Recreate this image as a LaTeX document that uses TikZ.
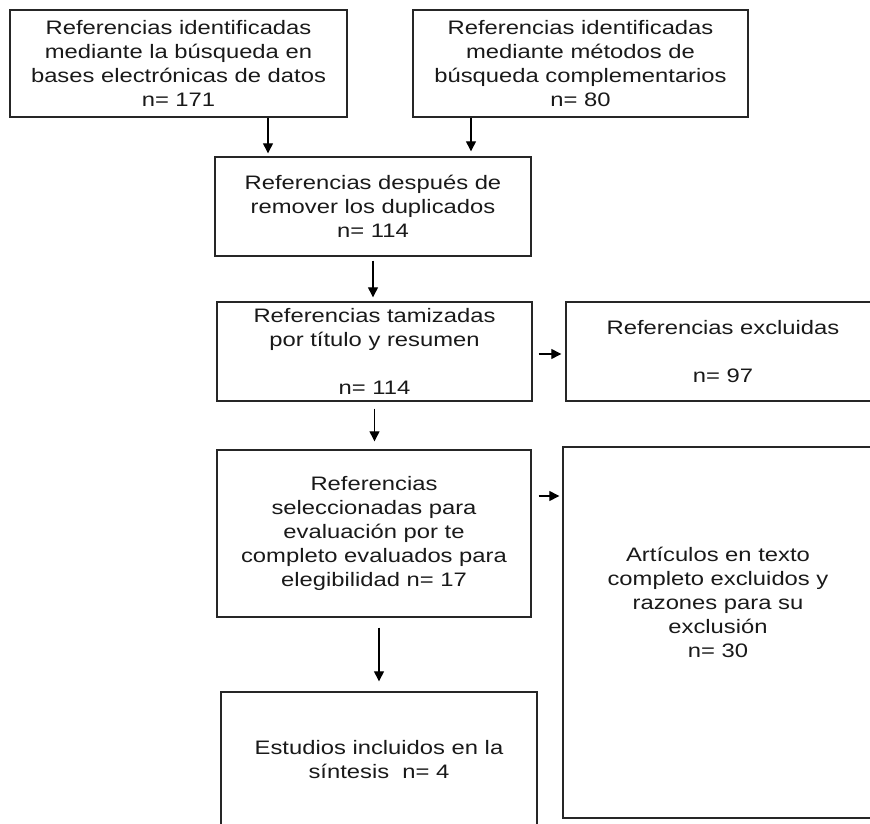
\documentclass[tikz,border=0pt]{standalone}
\usepackage{fontspec}
\setmainfont{Liberation Sans}[FakeStretch=1.22]
\usetikzlibrary{arrows.meta}

\begin{document}
\begin{tikzpicture}[x=1pt, y=-1pt,
    box/.style={draw=black!85, line width=1.4pt, align=center, inner sep=2pt,
        text=black!90, font=\fontsize{19.5}{24}\selectfont},
    txt/.style={align=center, inner sep=0pt, text=black!90,
        font=\fontsize{19.5}{24}\selectfont},
    arr/.style={-{Triangle[length=10pt,width=10pt]}, line width=1.3pt}]

    % Page of the same size as the reference
    \useasboundingbox (0,0) rectangle (870,824);
    \clip (0,0) rectangle (870,824);

    % Identification
    \node[box, minimum width=337pt, minimum height=107pt] (refdb) at (178.5,63.5)
        {Referencias identificadas\\mediante la búsqueda en\\bases electrónicas de datos\\n= 171};
    \node[box, minimum width=335pt, minimum height=107pt] (refcomp) at (580.5,63.5)
        {Referencias identificadas\\mediante métodos de\\búsqueda complementarios\\n= 80};

    % Screening
    \node[box, minimum width=316pt, minimum height=99pt] (dup) at (373,206.5)
        {Referencias después de\\remover los duplicados\\n= 114};
    \node[box, minimum width=315pt, minimum height=99pt] (screen) at (374.5,351.5)
        {Referencias tamizadas\\por título y resumen\\[24pt]n= 114};
    \node[box, minimum width=314pt, minimum height=99pt] (excl) at (723,351.5)
        {Referencias excluidas\\[24pt]n= 97};

    % Eligibility
    \node[box, minimum width=314pt, minimum height=167pt] (full) at (374,533.5)
        {Referencias\\seleccionadas para\\evaluación por te\\completo evaluados para\\elegibilidad n= 17};
    \node[box, minimum width=310pt, minimum height=371pt] (exclfull) at (718,632.5) {};
    \node[txt] (exclfulltxt) at ([yshift=30pt]exclfull.center)
        {Artículos en texto\\completo excluidos y\\razones para su\\exclusión\\n= 30};

    % Included
    \node[box, minimum width=316pt, minimum height=136pt] (incl) at (379,760)
        {Estudios incluidos en la\\síntesis \ n= 4};

    % Arrows between the boxes
    \draw[arr, shorten >=3pt] ([xshift=89.5pt]refdb.south) -- ([xshift=89.5pt]refdb.south |- dup.north);
    \draw[arr, shorten >=5pt] ([xshift=-109.5pt]refcomp.south) -- ([xshift=-109.5pt]refcomp.south |- dup.north);
    \draw[arr, shorten <=4pt, shorten >=4pt] (dup.south) -- (dup.south |- screen.north);
    \draw[arr, shorten <=7pt, shorten >=8pt] (screen.south) -- (screen.south |- full.north);
    \draw[arr, shorten <=10pt, shorten >=10pt] (incl.north |- full.south) -- (incl.north);
    \draw[arr, shorten <=6pt, shorten >=4pt] ([yshift=-2.5pt]screen.east) -- ([yshift=-2.5pt]screen.east -| excl.west);
    \draw[arr, shorten <=7pt, shorten >=3pt] ([yshift=37.5pt]full.east) -- ([yshift=37.5pt]full.east -| exclfull.west);

\end{tikzpicture}
\end{document}
